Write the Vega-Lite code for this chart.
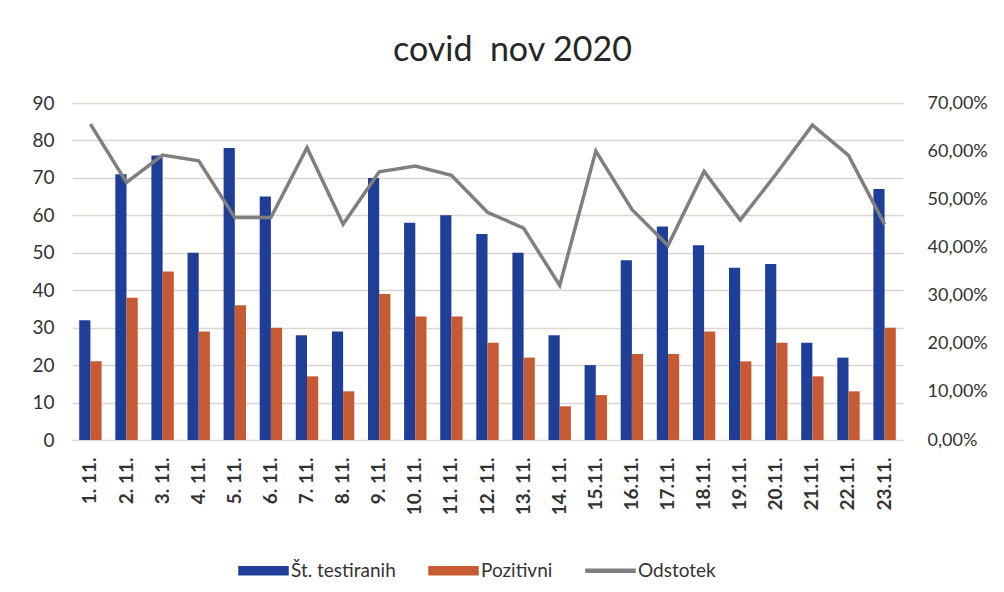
{
  "$schema": "https://vega.github.io/schema/vega-lite/v6.json",
  "width": 831,
  "height": 337,
  "autosize": {"type": "none"},
  "padding": {"left": 72, "top": 103, "right": 101, "bottom": 152},
  "background": "white",
  "title": {"text": "covid\u00a0\u00a0nov 2020", "fontSize": 34, "font": "Lato", "fontWeight": "normal", "color": "#262626", "offset": 26, "dx": 25},
  "data": {"values": [
    {"date": "1. 11.", "testiranih": 32, "pozitivni": 21, "odstotek": 0.656},
    {"date": "2. 11.", "testiranih": 71, "pozitivni": 38, "odstotek": 0.535},
    {"date": "3. 11.", "testiranih": 76, "pozitivni": 45, "odstotek": 0.592},
    {"date": "4. 11.", "testiranih": 50, "pozitivni": 29, "odstotek": 0.58},
    {"date": "5. 11.", "testiranih": 78, "pozitivni": 36, "odstotek": 0.462},
    {"date": "6. 11.", "testiranih": 65, "pozitivni": 30, "odstotek": 0.462},
    {"date": "7. 11.", "testiranih": 28, "pozitivni": 17, "odstotek": 0.607},
    {"date": "8. 11.", "testiranih": 29, "pozitivni": 13, "odstotek": 0.448},
    {"date": "9. 11.", "testiranih": 70, "pozitivni": 39, "odstotek": 0.557},
    {"date": "10. 11.", "testiranih": 58, "pozitivni": 33, "odstotek": 0.569},
    {"date": "11. 11.", "testiranih": 60, "pozitivni": 33, "odstotek": 0.55},
    {"date": "12. 11.", "testiranih": 55, "pozitivni": 26, "odstotek": 0.473},
    {"date": "13. 11.", "testiranih": 50, "pozitivni": 22, "odstotek": 0.44},
    {"date": "14. 11.", "testiranih": 28, "pozitivni": 9, "odstotek": 0.321},
    {"date": "15.11.", "testiranih": 20, "pozitivni": 12, "odstotek": 0.6},
    {"date": "16.11.", "testiranih": 48, "pozitivni": 23, "odstotek": 0.479},
    {"date": "17.11.", "testiranih": 57, "pozitivni": 23, "odstotek": 0.404},
    {"date": "18.11.", "testiranih": 52, "pozitivni": 29, "odstotek": 0.558},
    {"date": "19.11.", "testiranih": 46, "pozitivni": 21, "odstotek": 0.457},
    {"date": "20.11.", "testiranih": 47, "pozitivni": 26, "odstotek": 0.553},
    {"date": "21.11.", "testiranih": 26, "pozitivni": 17, "odstotek": 0.654},
    {"date": "22.11.", "testiranih": 22, "pozitivni": 13, "odstotek": 0.591},
    {"date": "23.11.", "testiranih": 67, "pozitivni": 30, "odstotek": 0.448}
  ]},
  "encoding": {
    "x": {"field": "date", "type": "nominal", "sort": null,
      "scale": {"paddingInner": 0.38, "paddingOuter": 0.2},
      "axis": {"title": null, "labelAngle": -90, "labelFont": "Lato", "labelFontSize": 19, "labelFontWeight": "bold", "labelColor": "#333333", "ticks": false, "domainColor": "#d9d9d9", "domainWidth": 1, "labelPadding": 17, "labelBaseline": "middle"}}
  },
  "layer": [
    {
      "transform": [{"fold": ["testiranih", "pozitivni"], "as": ["serie", "vrednost"]}],
      "mark": {"type": "bar"},
      "encoding": {
        "xOffset": {"field": "serie", "type": "nominal", "scale": {"domain": ["testiranih", "pozitivni"], "paddingInner": 0}},
        "y": {"field": "vrednost", "type": "quantitative",
          "scale": {"domain": [0, 90]},
          "axis": {"title": null, "values": [0,10,20,30,40,50,60,70,80,90], "labelFont": "Lato", "labelFontSize": 19, "labelColor": "#333333", "ticks": false, "domain": false, "gridColor": "#dcd6d0", "gridWidth": 1.5, "labelPadding": 18}},
        "color": {"field": "serie", "type": "nominal",
          "scale": {"domain": ["testiranih", "pozitivni", "Odstotek"], "range": ["#1f3e98", "#c65a33", "#7f7f7f"]},
          "legend": {"title": null, "orient": "none", "legendX": 166, "legendY": 442, "direction": "horizontal", "labelFont": "Lato", "labelFontSize": 19, "labelColor": "#333333",
            "symbolType": "M-1,-0.16H1V0.16H-1Z", "symbolSize": 2400, "columnPadding": 30, "labelOffset": 2,
            "encode": {"symbols": {"update": {"shape": {"signal": "datum.label == 'Odstotek' ? 'M-1,-0.06H1V0.06H-1Z' : 'M-1,-0.16H1V0.16H-1Z'"}}}},
            "labelExpr": "datum.label == 'testiranih' ? 'Št. testiranih' : datum.label == 'pozitivni' ? 'Pozitivni' : datum.label"}}
      }
    },
    {
      "mark": {"type": "line", "strokeWidth": 3.5},
      "encoding": {
        "y": {"field": "odstotek", "type": "quantitative",
          "scale": {"domain": [0, 0.7]},
          "axis": {"title": null, "orient": "right", "offset": 22, "values": [0,0.1,0.2,0.3,0.4,0.5,0.6,0.7], "labelExpr": "replace(format(datum.value, '.2%'), '.', ',')", "labelFont": "Lato", "labelFontSize": 18, "labelColor": "#333333", "ticks": false, "domain": false, "grid": false, "labelPadding": 2}},
        "color": {"datum": "Odstotek"}
      }
    }
  ],
  "resolve": {"scale": {"y": "independent"}},
  "config": {"view": {"stroke": null}}
}
